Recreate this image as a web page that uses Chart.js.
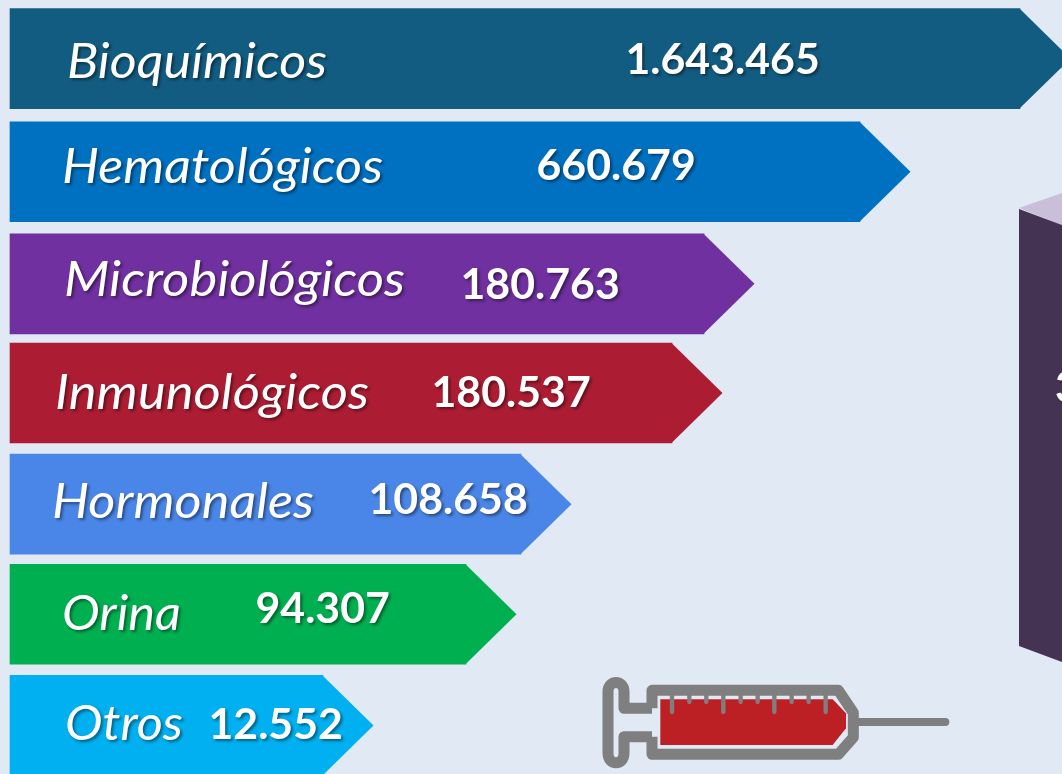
<!DOCTYPE html>
<html lang="es">
<head>
<meta charset="utf-8">
<title>Pruebas de laboratorio</title>
<style>
html,body{margin:0;padding:0;width:1062px;height:774px;overflow:hidden;background:#E1E9F5}
canvas{display:block}
</style>
<script src="https://cdn.jsdelivr.net/npm/chart.js@4"></script>
</head>
<body>
<canvas id="c" width="1062" height="781"></canvas>
<script>
// Data
const categorias = ["Bioquímicos","Hematológicos","Microbiológicos","Inmunológicos","Hormonales","Orina","Otros"];
const valores = [1643465,660679,180763,180537,108658,94307,12552];
// Arrow shaft lengths as drawn in the picture (they are not proportional to the values)
const longitudFlecha = [1010,850,694,662,511,456,313];
const colores = ["#135C81","#0070C0","#7030A0","#AC1D33","#4A86E8","#00B050","#00B0F0"];
const totalVisible = "3";

// Layout of the annotations (not data)
const ajusteFila = [0,2,3,1,1,0,0];
const etiquetaX = [67,62,64,55,52,62,65];
const etiquetaY = [78,183,296,409,518,630,740];
const etiquetaAncho = [260,321,341,314,262,119,118];
const valorX = [625.5,536.5,460.5,431.5,368.5,255.5,208.5];
const valorY = [74,180,299,407,514,623,739];
const valorEscala = 1.02;

const fmt = n => String(n).replace(/\B(?=(\d{3})+$)/g,".");

function sombra(ctx){
  ctx.shadowColor="rgba(0,0,0,0.45)";ctx.shadowBlur=3;ctx.shadowOffsetX=2;ctx.shadowOffsetY=2;
}

function textoAncho(ctx,t,x,y,esc){
  ctx.save();ctx.translate(x,y);ctx.scale(esc,1);ctx.fillText(t,0,0);ctx.restore();
}

function dibujarPrisma(ctx){
  ctx.save();
  ctx.fillStyle="#C9BFD9";
  ctx.beginPath();ctx.moveTo(1019,208);ctx.lineTo(1062,193);ctx.lineTo(1062,225);ctx.closePath();ctx.fill();
  ctx.fillStyle="#443352";
  ctx.beginPath();ctx.moveTo(1019,209);ctx.lineTo(1062,225);ctx.lineTo(1062,662);ctx.lineTo(1019,646);ctx.closePath();ctx.fill();
  sombra(ctx);
  ctx.fillStyle="#fff";ctx.font="bold 42px Lato";ctx.textBaseline="alphabetic";
  ctx.fillText(totalVisible,1055,402);
  ctx.restore();
}

function dibujarJeringa(ctx){
  ctx.save();
  ctx.translate(590,660);ctx.scale(1/3,1/3);
  const gris="#7F7F7F";
  // red liquid
  ctx.fillStyle="#BC2025";
  ctx.beginPath();
  ctx.moveTo(211,118);ctx.lineTo(728,118);ctx.lineTo(768,160);ctx.lineTo(768,205);ctx.lineTo(728,255);ctx.lineTo(211,255);
  ctx.closePath();ctx.fill();
  // body and plunger
  ctx.strokeStyle=gris;ctx.lineWidth=33;ctx.lineJoin="round";ctx.lineCap="butt";
  ctx.beginPath();
  ctx.moveTo(186,145);ctx.lineTo(102,145);ctx.lineTo(102,95);
  ctx.bezierCurveTo(102,58,54,58,54,95);
  ctx.lineTo(54,280);
  ctx.bezierCurveTo(54,318,102,318,102,280);
  ctx.lineTo(102,230);ctx.lineTo(186,230);
  ctx.moveTo(186,230);ctx.lineTo(186,283);ctx.lineTo(745,283);ctx.lineTo(790,232);ctx.lineTo(790,158);ctx.lineTo(745,91);ctx.lineTo(186,91);ctx.lineTo(186,145);
  ctx.stroke();
  // needle
  ctx.lineCap="round";ctx.lineWidth=24;
  ctx.beginPath();ctx.moveTo(805,186);ctx.lineTo(1066,186);ctx.stroke();
  // graduation
  ctx.lineWidth=13;
  [246,400,553,707].forEach(x=>{ctx.beginPath();ctx.moveTo(x,82);ctx.lineTo(x,156);ctx.stroke();});
  [298,349,452,503,605,656].forEach(x=>{ctx.beginPath();ctx.moveTo(x,82);ctx.lineTo(x,126);ctx.stroke();});
  ctx.restore();
}

const flechas = {
  id:"flechas",
  afterDatasetsUpdate(chart){
    chart.getDatasetMeta(0).data.forEach((b,i)=>{b.y+=ajusteFila[i];});
  },
  afterDatasetsDraw(chart){
    const ctx=chart.ctx;
    dibujarPrisma(ctx);
    chart.getDatasetMeta(0).data.forEach((b,i)=>{
      const mitad=b.height/2;
      ctx.save();
      ctx.fillStyle=colores[i];
      ctx.beginPath();
      ctx.moveTo(b.x-0.5,b.y-mitad);
      ctx.lineTo(b.x+mitad+0.5,b.y);
      ctx.lineTo(b.x-0.5,b.y+mitad);
      ctx.closePath();ctx.fill();
      ctx.restore();
    });
    ctx.save();
    ctx.textBaseline="alphabetic";ctx.textAlign="left";ctx.fillStyle="#fff";
    sombra(ctx);
    categorias.forEach((t,i)=>{
      ctx.font="italic 48px Lato";
      const esc=etiquetaAncho[i]/ctx.measureText(t).width;
      textoAncho(ctx,t,etiquetaX[i],etiquetaY[i],esc);
      ctx.font="bold 42px Lato";
      textoAncho(ctx,fmt(valores[i]),valorX[i],valorY[i],valorEscala);
    });
    ctx.restore();
    dibujarJeringa(ctx);
  }
};

new Chart(document.getElementById("c"),{
  type:"bar",
  data:{labels:categorias,datasets:[{data:longitudFlecha,backgroundColor:colores,borderWidth:0,barThickness:100}]},
  options:{
    indexAxis:"y",responsive:false,animation:false,
    layout:{padding:{top:3,bottom:0,left:0,right:0}},
    plugins:{legend:{display:false},tooltip:{enabled:false},title:{display:false}},
    scales:{
      x:{display:false,min:-10,max:1052},
      y:{display:false}
    }
  },
  plugins:[flechas]
});
</script>
</body>
</html>
